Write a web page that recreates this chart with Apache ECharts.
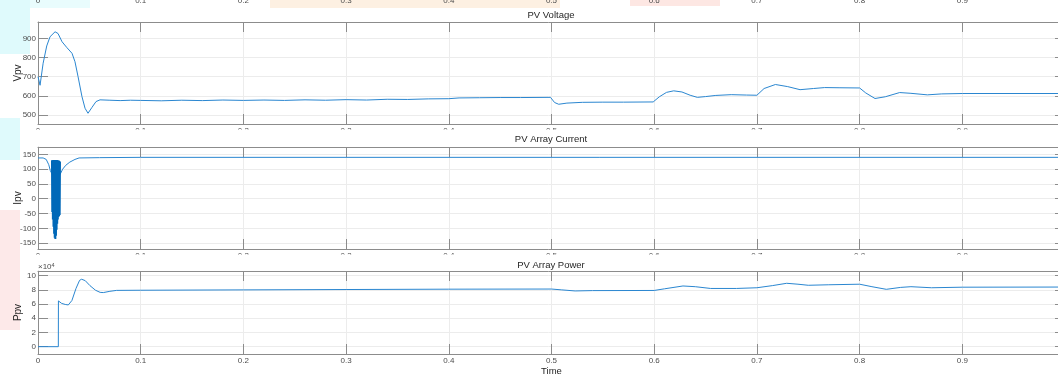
<!DOCTYPE html>
<html>
<head>
<meta charset="utf-8">
<script src="https://cdn.jsdelivr.net/npm/echarts@6/dist/echarts.min.js"></script>
<style>
  html, body { margin: 0; padding: 0; background: #fff; }
  #chart { width: 1058px; height: 375px; }
</style>
</head>
<body>
<div id="chart"></div>
<script>
// time axis ticks
var timeTicks = [0, 0.1, 0.2, 0.3, 0.4, 0.5, 0.6, 0.7, 0.8, 0.9, 1];

// PV Voltage (V)
var voltT = [0, 0.002, 0.005, 0.0085, 0.0117, 0.0166, 0.0195, 0.0234, 0.0282, 0.0331, 0.036, 0.039, 0.0428, 0.0458, 0.0487, 0.0526, 0.0565, 0.0604,
  0.07, 0.08, 0.09, 0.1, 0.12, 0.14, 0.16, 0.18, 0.2, 0.22, 0.24, 0.26, 0.28, 0.3, 0.32, 0.34, 0.36, 0.38, 0.4, 0.41, 0.43, 0.45, 0.47, 0.499,
  0.503, 0.507, 0.515, 0.53, 0.55, 0.57, 0.599, 0.605, 0.612, 0.619, 0.627, 0.635, 0.642, 0.65, 0.66, 0.675, 0.69, 0.7,
  0.707, 0.718, 0.73, 0.742, 0.755, 0.766, 0.78, 0.8, 0.806, 0.815, 0.825, 0.839, 0.85, 0.866, 0.88, 0.9, 1.0];
var voltV = [700, 655, 770, 860, 908, 934, 925, 882, 851, 822, 778, 700, 596, 535, 509, 540, 570, 579,
  577, 575, 577, 576, 574, 577, 575, 578, 576, 578, 576, 579, 577, 580, 578, 582, 581, 584, 585, 589, 590, 591, 591, 592,
  565, 556, 562, 566, 567, 567, 568, 595, 618, 626, 620, 603, 592, 596, 602, 606, 604, 603,
  638, 659, 648, 632, 638, 643, 642, 641, 615, 586, 595, 617, 613, 605, 610, 612, 612];
var voltTicks = [500, 600, 700, 800, 900];

// PV Array Current (A)
var currT = [0, 0.005, 0.008, 0.0105, 0.012, 0.0135, 0.0215, 0.024, 0.027, 0.031, 0.036, 0.04, 0.06, 0.1, 1.0];
var currV = [138, 138, 133, 115, 95, 85, 82, 100, 113, 124, 133, 138, 139, 140, 140];
// switching burst around t = 0.014..0.021
var burstT = [0.0136, 0.0139, 0.0142, 0.0145, 0.0148, 0.0151, 0.0154, 0.0157, 0.016, 0.0163, 0.0166, 0.0169, 0.0172, 0.0175,
  0.0178, 0.0181, 0.0184, 0.0187, 0.019, 0.0193, 0.0196, 0.0199, 0.0202, 0.0205, 0.0208, 0.0211, 0.0214];
var burstV = [130, -45, 130, -70, 131, -95, 131, -118, 131, -132, 131, -136, 131, -125,
  131, -105, 131, -85, 130, -70, 130, -62, 129, -58, 128, -55, 125];
var currTicks = [-150, -100, -50, 0, 50, 100, 150];

// PV Array Power (x10^4 W)
var powT = [0, 0.0198, 0.0199, 0.023, 0.0265, 0.0295, 0.033, 0.037, 0.0405, 0.0425, 0.046, 0.0506, 0.056, 0.0605, 0.0636, 0.07, 0.0766,
  0.1, 0.2, 0.3, 0.4, 0.5, 0.51, 0.523, 0.54, 0.6, 0.61, 0.628, 0.64, 0.655, 0.68, 0.7, 0.715, 0.729, 0.74, 0.75, 0.77, 0.8,
  0.812, 0.826, 0.84, 0.85, 0.87, 0.9, 1.0];
var powV = [0, 0, 6.45, 6.1, 5.95, 5.88, 6.5, 8.2, 9.35, 9.5, 9.3, 8.6, 7.95, 7.65, 7.62, 7.8, 7.93,
  7.95, 8.0, 8.05, 8.1, 8.12, 8.0, 7.85, 7.9, 7.92, 8.15, 8.55, 8.45, 8.2, 8.2, 8.3, 8.6, 8.93, 8.8, 8.65, 8.72, 8.8,
  8.45, 8.08, 8.35, 8.45, 8.3, 8.38, 8.4];
var powTicks = [0, 2, 4, 6, 8, 10];

var pair = function (t, v) {
  return t.map(function (x, i) { return [x, v[i]]; });
};

var frameColor = '#8c8c8c';
var gridColor = '#ececec';
var lineColor = '#2a86d0';
var font = 'Liberation Sans, Arial, sans-serif';
var tickLabel = { color: '#4d4d4d', fontSize: 8, fontFamily: font };

function timeAxis(gi, top, labels, name) {
  return {
    type: 'value', gridIndex: gi, position: top ? 'top' : 'bottom',
    min: 0, max: 1, interval: 0.1,
    name: name || '', nameLocation: 'middle', nameGap: 12, nameMoveOverlap: false,
    nameTextStyle: { color: '#262626', fontSize: 9.5, fontFamily: font },
    axisLine: { show: true, onZero: false, lineStyle: { color: frameColor } },
    axisTick: { show: true, inside: true, length: 10, lineStyle: { color: frameColor } },
    axisLabel: Object.assign({ show: labels, margin: 3 }, tickLabel),
    splitLine: { show: !top, lineStyle: { color: gridColor } }
  };
}

function valueAxis(gi, right, min, max, ticks, name) {
  return {
    type: 'value', gridIndex: gi, position: right ? 'right' : 'left',
    min: min, max: max,
    name: name || '', nameLocation: 'middle', nameGap: 15, nameMoveOverlap: false,
    nameTextStyle: { color: '#262626', fontSize: 10, fontFamily: font },
    axisLine: { show: true, onZero: false, lineStyle: { color: frameColor } },
    axisTick: { show: true, inside: true, length: 10, customValues: ticks, lineStyle: { color: frameColor } },
    axisLabel: Object.assign({ show: !right, margin: 2, customValues: ticks }, tickLabel),
    splitLine: { show: !right, lineStyle: { color: gridColor } }
  };
}

function lineSeries(xi, yi, data, color, width) {
  return {
    type: 'line', xAxisIndex: xi, yAxisIndex: yi, data: data,
    showSymbol: false, symbol: 'none', animation: false, silent: true,
    lineStyle: { color: color, width: width }
  };
}

var titleStyle = { color: '#262626', fontSize: 9.5, fontWeight: 'normal', fontFamily: font };

var option = {
  backgroundColor: '#fff',
  animation: false,
  title: [
    { text: 'PV Voltage', left: 551, top: 10, textAlign: 'center', padding: 0, textStyle: titleStyle },
    { text: 'PV Array Current', left: 551, top: 134, textAlign: 'center', padding: 0, textStyle: titleStyle },
    { text: 'PV Array Power', left: 551, top: 260, textAlign: 'center', padding: 0, textStyle: titleStyle },
    {
      text: '×10{s|4}', left: 38, top: 262, padding: 0,
      textStyle: { color: '#4d4d4d', fontSize: 8, fontWeight: 'normal', fontFamily: font,
        rich: { s: { fontSize: 5.5, verticalAlign: 'top', padding: [0, 0, 4, 0], color: '#4d4d4d' } } }
    }
  ],
  graphic: [
    // faint colour blotches from the source screenshot
    { type: 'rect', z: -10, silent: true, shape: { x: 0, y: 0, width: 30, height: 54 }, style: { fill: '#dffafc' } },
    { type: 'rect', z: -10, silent: true, shape: { x: 30, y: 0, width: 60, height: 8 }, style: { fill: '#e9fcfd' } },
    { type: 'rect', z: -10, silent: true, shape: { x: 0, y: 118, width: 20, height: 42 }, style: { fill: '#dffafc' } },
    { type: 'rect', z: -10, silent: true, shape: { x: 0, y: 210, width: 20, height: 120 }, style: { fill: '#fde9e9' } },
    { type: 'rect', z: -10, silent: true, shape: { x: 270, y: 0, width: 290, height: 8 }, style: { fill: '#fdf0e2' } },
    { type: 'rect', z: -10, silent: true, shape: { x: 630, y: 0, width: 90, height: 6 }, style: { fill: '#fde7e3' } },
    // the lower panels overlap the tick labels of the panels above
    { type: 'rect', z: 5, silent: true, shape: { x: 24, y: 129.5, width: 1040, height: 17 }, style: { fill: '#fff' } },
    { type: 'rect', z: 5, silent: true, shape: { x: 24, y: 254.5, width: 1040, height: 16 }, style: { fill: '#fff' } }
  ],
  grid: [
    { left: 38, right: -7, top: 22, height: 102, outerBoundsMode: 'none' },
    { left: 38, right: -7, top: 147, height: 102, outerBoundsMode: 'none' },
    { left: 38, right: -7, top: 271, height: 83, outerBoundsMode: 'none' },
    { left: 38, right: -7, top: -52, height: 46, outerBoundsMode: 'none' }
  ],
  xAxis: [
    timeAxis(0, false, true), timeAxis(0, true, false),
    timeAxis(1, false, true), timeAxis(1, true, false),
    timeAxis(2, false, true, 'Time'), timeAxis(2, true, false),
    {
      type: 'value', gridIndex: 3, min: 0, max: 1, interval: 0.1,
      axisLine: { show: false }, axisTick: { show: false }, splitLine: { show: false },
      axisLabel: Object.assign({ margin: 3 }, tickLabel)
    }
  ],
  yAxis: [
    valueAxis(0, false, 453, 985, voltTicks, 'Vpv'), valueAxis(0, true, 453, 985, voltTicks),
    valueAxis(1, false, -170, 175, currTicks, 'Ipv'), valueAxis(1, true, -170, 175, currTicks),
    valueAxis(2, false, -1.03, 10.66, powTicks, 'Ppv'), valueAxis(2, true, -1.03, 10.66, powTicks),
    { type: 'value', gridIndex: 3, show: false, min: 0, max: 1 }
  ],
  series: [
    lineSeries(0, 0, pair(voltT, voltV), lineColor, 1),
    lineSeries(2, 2, pair(currT, currV), lineColor, 1),
    lineSeries(2, 2, pair(burstT, burstV), '#0068b8', 2),
    lineSeries(4, 4, pair(powT, powV), lineColor, 1)
  ]
};

var chart = echarts.init(document.getElementById('chart'));
chart.setOption(option);
</script>
</body>
</html>
